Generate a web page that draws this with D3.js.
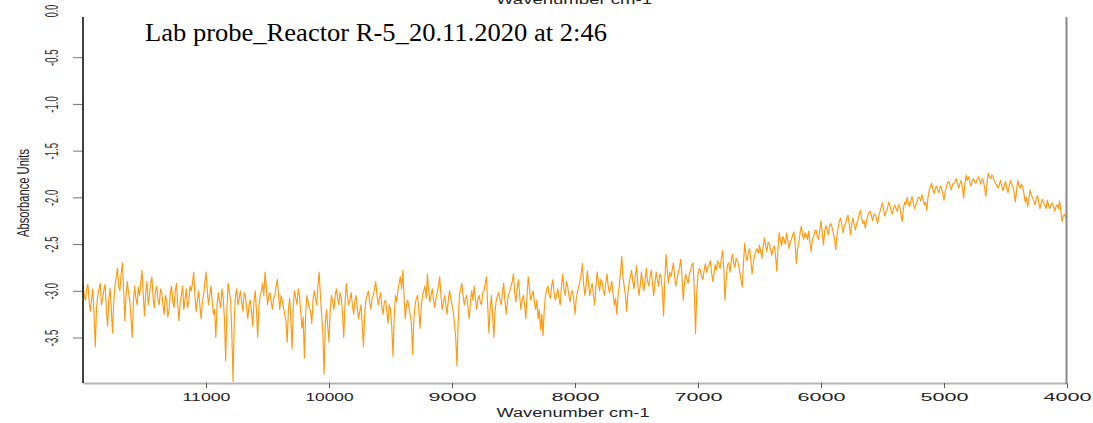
<!DOCTYPE html>
<html>
<head>
<meta charset="utf-8">
<script src="https://cdn.jsdelivr.net/npm/d3@7"></script>
<style>
  html, body { margin: 0; padding: 0; background: #ffffff; }
  svg { display: block; }
</style>
</head>
<body>
<svg id="chart" width="1093" height="423"></svg>
<script>
// NIR absorbance spectrum, 12000 -> 4000 cm-1, one reading every 10 cm-1
const chartTitle = "Lab probe_Reactor R-5_20.11.2020 at 2:46";
const xTitle = "Wavenumber cm-1";
const yTitle = "Absorbance Units";

const wavenumberStart = 12000;
const wavenumberStep = -10;

const xTicks = [11000, 10000, 9000, 8000, 7000, 6000, 5000, 4000];
const yTicks = [0.0, -0.5, -1.0, -1.5, -2.0, -2.5, -3.0, -3.5];

// absorbance, 40 readings per row (400 cm-1 per row)
const absorbance = [
  -2.92,-3.05,-3.10,-2.98,-2.93,-3.12,-3.22,-3.08,-2.98,-3.25,-3.60,-3.18,-3.05,-2.98,-2.92,-3.15,-3.08,-2.99,-2.93,-3.20,-3.38,-3.10,-2.97,-3.20,-3.45,-3.12,-2.95,-2.85,-2.76,-2.95,-3.00,-2.82,-2.70,-2.98,-3.32,-3.05,-2.90,-3.02,-3.10,-3.28,
  -3.50,-3.12,-2.95,-3.08,-3.15,-2.96,-3.05,-2.90,-2.78,-3.05,-3.27,-3.02,-2.90,-3.15,-3.05,-2.92,-2.85,-3.08,-3.18,-3.00,-2.95,-3.10,-3.15,-2.98,-3.02,-3.15,-3.25,-3.05,-3.10,-3.28,-3.20,-3.02,-2.95,-3.12,-3.18,-3.00,-2.92,-3.15,-3.32,-3.12,
  -3.05,-2.95,-3.20,-3.08,-2.98,-3.18,-3.12,-2.95,-3.00,-2.92,-2.80,-3.05,-3.22,-3.10,-3.00,-3.15,-3.30,-3.12,-3.05,-2.92,-2.80,-2.98,-3.15,-3.05,-2.95,-3.10,-3.25,-3.20,-3.50,-3.15,-3.02,-3.12,-3.18,-2.98,-3.08,-3.30,-3.75,-3.20,-2.92,-3.02,
  -3.10,-3.45,-3.97,-3.30,-3.05,-2.98,-3.15,-3.08,-3.00,-3.12,-3.22,-3.02,-3.05,-3.18,-3.30,-3.15,-3.10,-3.22,-3.38,-3.12,-3.00,-3.20,-3.50,-3.18,-3.05,-3.00,-2.92,-3.05,-2.80,-2.95,-3.15,-3.05,-3.02,-3.12,-3.20,-3.08,-3.05,-2.95,-2.88,-3.05,
  -3.20,-3.05,-3.10,-3.18,-3.25,-3.32,-3.55,-3.20,-3.08,-3.30,-3.62,-3.15,-3.00,-3.08,-3.15,-2.98,-3.05,-3.22,-3.40,-3.28,-3.72,-3.25,-3.05,-3.12,-3.18,-3.22,-3.35,-3.10,-3.00,-3.08,-3.15,-2.95,-2.80,-3.05,-3.25,-3.45,-3.89,-3.35,-3.20,-3.38,
  -3.55,-3.20,-3.05,-3.12,-3.20,-3.05,-2.98,-3.08,-3.15,-3.02,-3.08,-3.25,-3.50,-3.15,-2.92,-3.05,-3.15,-3.10,-3.02,-3.15,-3.25,-3.12,-3.05,-3.18,-3.30,-3.22,-3.15,-3.35,-3.60,-3.25,-3.10,-3.05,-3.00,-3.12,-3.20,-3.08,-3.05,-2.98,-2.90,-3.05,
  -3.15,-3.08,-3.02,-3.18,-3.25,-3.12,-3.10,-3.22,-3.35,-3.15,-3.20,-3.38,-3.70,-3.28,-3.05,-3.12,-3.00,-2.92,-2.85,-2.98,-2.78,-3.05,-3.30,-3.15,-3.10,-3.18,-3.25,-3.35,-3.68,-3.30,-3.15,-3.08,-3.05,-3.20,-3.40,-3.18,-3.05,-3.00,-2.95,-3.08,
  -2.82,-3.00,-3.12,-3.05,-2.98,-3.10,-3.18,-3.08,-3.02,-2.95,-2.85,-3.05,-3.20,-3.12,-3.05,-3.15,-3.25,-3.10,-3.00,-3.08,-3.15,-3.22,-3.35,-3.50,-3.80,-3.35,-3.05,-2.98,-2.92,-3.05,-3.15,-3.08,-3.05,-3.18,-3.30,-3.12,-3.00,-3.10,-2.95,-3.08,
  -3.20,-3.10,-3.05,-3.12,-3.15,-3.02,-3.00,-2.92,-2.85,-3.15,-3.45,-3.20,-3.05,-3.25,-3.50,-3.22,-3.10,-3.05,-3.02,-3.10,-3.15,-3.02,-2.92,-3.10,-3.25,-3.12,-3.05,-3.00,-2.95,-2.90,-2.82,-3.02,-3.12,-2.98,-2.88,-3.05,-3.20,-3.10,-3.05,-3.15,
  -3.30,-3.05,-2.85,-2.98,-3.10,-3.05,-3.00,-3.12,-3.20,-3.10,-3.30,-3.20,-3.42,-3.25,-3.48,-3.20,-3.05,-2.98,-2.95,-3.05,-3.08,-2.95,-2.88,-3.02,-3.10,-3.05,-2.98,-3.08,-3.15,-2.95,-2.82,-2.98,-3.05,-2.90,-2.95,-3.05,-3.12,-3.02,-3.00,-3.10,
  -3.25,-3.08,-3.02,-2.95,-2.90,-2.82,-2.71,-2.92,-3.05,-2.95,-2.79,-2.92,-3.05,-2.98,-2.92,-3.05,-3.15,-2.95,-2.80,-2.90,-3.00,-2.88,-2.90,-3.00,-3.05,-2.92,-2.82,-2.95,-3.02,-2.96,-2.90,-3.05,-3.15,-3.08,-3.25,-3.05,-2.95,-2.80,-2.63,-2.85,
  -2.95,-3.05,-3.22,-3.02,-2.92,-2.85,-2.78,-2.90,-2.98,-2.85,-2.73,-2.92,-3.05,-2.95,-2.80,-2.92,-3.00,-2.88,-2.76,-2.90,-2.95,-2.85,-2.78,-2.92,-3.05,-2.92,-2.80,-2.88,-2.95,-2.82,-2.85,-3.00,-3.27,-2.90,-2.61,-2.78,-2.92,-2.80,-2.85,-2.78,
  -2.70,-2.85,-2.95,-2.88,-2.80,-2.75,-2.66,-2.85,-3.10,-2.92,-2.82,-2.88,-2.92,-2.82,-2.78,-2.72,-2.70,-3.00,-3.46,-3.02,-2.82,-2.76,-2.78,-2.85,-2.88,-2.78,-2.71,-2.80,-2.75,-2.72,-2.68,-2.80,-2.90,-2.82,-2.72,-2.78,-2.68,-2.72,-2.76,-2.65,
  -2.57,-2.78,-3.10,-2.85,-2.72,-2.70,-2.80,-2.68,-2.61,-2.70,-2.75,-2.65,-2.68,-2.72,-2.80,-2.88,-2.96,-2.70,-2.49,-2.62,-2.68,-2.58,-2.55,-2.68,-2.82,-2.70,-2.62,-2.58,-2.55,-2.60,-2.51,-2.58,-2.65,-2.52,-2.43,-2.52,-2.58,-2.48,-2.50,-2.56,
  -2.62,-2.55,-2.52,-2.62,-2.79,-2.55,-2.38,-2.45,-2.52,-2.42,-2.45,-2.50,-2.38,-2.46,-2.55,-2.48,-2.45,-2.40,-2.37,-2.50,-2.71,-2.55,-2.48,-2.38,-2.31,-2.40,-2.45,-2.38,-2.40,-2.45,-2.36,-2.48,-2.58,-2.45,-2.42,-2.36,-2.35,-2.42,-2.45,-2.35,
  -2.25,-2.38,-2.51,-2.36,-2.30,-2.35,-2.40,-2.30,-2.28,-2.32,-2.38,-2.45,-2.56,-2.40,-2.32,-2.25,-2.22,-2.30,-2.38,-2.30,-2.28,-2.22,-2.19,-2.30,-2.40,-2.28,-2.22,-2.30,-2.35,-2.28,-2.25,-2.18,-2.14,-2.22,-2.28,-2.25,-2.33,-2.25,-2.20,-2.16,
  -2.15,-2.20,-2.25,-2.18,-2.18,-2.22,-2.28,-2.20,-2.15,-2.10,-2.06,-2.14,-2.20,-2.15,-2.12,-2.05,-2.09,-2.14,-2.18,-2.12,-2.08,-2.12,-2.15,-2.08,-2.10,-2.18,-2.26,-2.12,-2.05,-2.08,-2.00,-2.06,-2.10,-2.04,-1.99,-2.05,-2.12,-2.08,-2.05,-2.00,
  -2.00,-2.04,-1.97,-2.02,-2.08,-2.05,-2.14,-2.00,-1.92,-1.88,-1.85,-1.92,-1.96,-1.90,-1.88,-1.93,-1.95,-1.88,-1.90,-1.96,-2.03,-1.94,-1.88,-1.84,-1.83,-1.88,-1.92,-1.86,-1.85,-1.83,-1.80,-1.86,-1.90,-1.85,-1.82,-1.90,-2.01,-1.85,-1.76,-1.82,
  -1.78,-1.84,-1.88,-1.82,-1.80,-1.83,-1.85,-1.80,-1.78,-1.82,-1.86,-1.80,-1.82,-1.90,-1.99,-1.85,-1.74,-1.78,-1.80,-1.76,-1.78,-1.83,-1.85,-1.88,-1.90,-1.86,-1.82,-1.88,-1.93,-1.87,-1.83,-1.90,-1.95,-1.88,-1.82,-1.86,-1.88,-1.95,-2.05,-1.92,
  -1.82,-1.88,-1.90,-1.86,-1.89,-1.96,-2.05,-2.00,-2.10,-2.02,-1.92,-1.98,-2.00,-2.04,-2.08,-2.02,-1.98,-2.05,-2.12,-2.06,-2.02,-2.06,-2.08,-2.12,-2.03,-2.08,-2.12,-2.08,-2.06,-2.10,-2.15,-2.10,-2.08,-2.12,-2.04,-2.15,-2.26,-2.20,-2.18,-2.22,
  -2.20
];

const spectrum = absorbance.map((a, i) => ({ wn: wavenumberStart + i * wavenumberStep, a }));

const svg = d3.select("#chart");
const plot = { left: 83, right: 1067, top: 17, bottom: 383 };

const x = d3.scaleLinear().domain([12000, 4000]).range([plot.left, plot.right]);
const y = d3.scaleLinear().domain([0, -3.5]).range([10.5, 337.5]);

// spectrum trace
const line = d3.line().x(d => x(d.wn)).y(d => y(d.a));
svg.append("path")
  .datum(spectrum)
  .attr("d", line)
  .attr("fill", "none")
  .attr("stroke", "#ff9a10")
  .attr("stroke-width", 1.15)
  .attr("stroke-linejoin", "round");

// bottom axis
const xAxis = svg.append("g")
  .attr("transform", `translate(0,${plot.bottom})`)
  .call(d3.axisBottom(x).tickValues(xTicks).tickSize(5).tickSizeOuter(0).tickFormat(d3.format("d")));
xAxis.select(".domain").attr("stroke", "#b4b4b4").attr("stroke-width", 2.2);
xAxis.selectAll(".tick line").attr("stroke", "#555").attr("stroke-width", 1);
xAxis.selectAll(".tick text")
  .attr("y", 14)
  .attr("dy", "0.35em")
  .attr("fill", "#222")
  .attr("font-family", "Liberation Sans, Arial, sans-serif")
  .attr("font-size", 11.5)
  .attr("textLength", 48)
  .attr("lengthAdjust", "spacingAndGlyphs");

// left axis
const yAxis = svg.append("g")
  .attr("transform", `translate(${plot.left},0)`)
  .call(d3.axisLeft(y).tickValues(yTicks).tickSize(10).tickSizeOuter(0).tickFormat(v => v.toFixed(1)));
yAxis.select(".domain").remove();
yAxis.selectAll(".tick line")
  .attr("stroke", "#777")
  .attr("stroke-width", 1)
  .attr("display", d => (y(d) < plot.top ? "none" : null));
yAxis.selectAll(".tick text")
  .attr("x", null).attr("dy", null)
  .attr("text-anchor", "middle")
  .attr("transform", "translate(-25,0) rotate(-90)")
  .attr("fill", "#333")
  .attr("font-family", "Liberation Sans Narrow, Liberation Sans, Arial, sans-serif")
  .attr("font-size", 18)
  .attr("textLength", d => (d === 0 ? 12.5 : 16.5))
  .attr("lengthAdjust", "spacingAndGlyphs");

svg.append("line")
  .attr("x1", plot.left).attr("x2", plot.left)
  .attr("y1", plot.top).attr("y2", plot.bottom)
  .attr("stroke", "#111").attr("stroke-width", 1.6);

// right frame edge
svg.append("line")
  .attr("x1", plot.right - 0.5).attr("x2", plot.right - 0.5)
  .attr("y1", plot.top).attr("y2", plot.bottom + 1)
  .attr("stroke", "#888").attr("stroke-width", 2);

// axis titles
svg.append("text")
  .attr("x", 573).attr("y", 417)
  .attr("text-anchor", "middle")
  .attr("fill", "#222")
  .attr("font-family", "Liberation Sans, Arial, sans-serif")
  .attr("font-size", 12.5)
  .attr("textLength", 153)
  .attr("lengthAdjust", "spacingAndGlyphs")
  .text(xTitle);

svg.append("text")
  .attr("x", 574).attr("y", 4)
  .attr("text-anchor", "middle")
  .attr("fill", "#222")
  .attr("font-family", "Liberation Sans, Arial, sans-serif")
  .attr("font-size", 12.5)
  .attr("textLength", 156)
  .attr("lengthAdjust", "spacingAndGlyphs")
  .text(xTitle);

svg.append("text")
  .attr("transform", "translate(29,193) rotate(-90)")
  .attr("text-anchor", "middle")
  .attr("fill", "#222")
  .attr("font-family", "Liberation Sans Narrow, Liberation Sans, Arial, sans-serif")
  .attr("font-size", 16)
  .attr("textLength", 88)
  .attr("lengthAdjust", "spacingAndGlyphs")
  .text(yTitle);

// chart title
svg.append("text")
  .attr("x", 145).attr("y", 41)
  .attr("fill", "#000")
  .attr("font-family", "Liberation Serif, Times New Roman, serif")
  .attr("font-size", 26)
  .attr("textLength", 462)
  .attr("lengthAdjust", "spacingAndGlyphs")
  .text(chartTitle);
</script>
</body>
</html>
